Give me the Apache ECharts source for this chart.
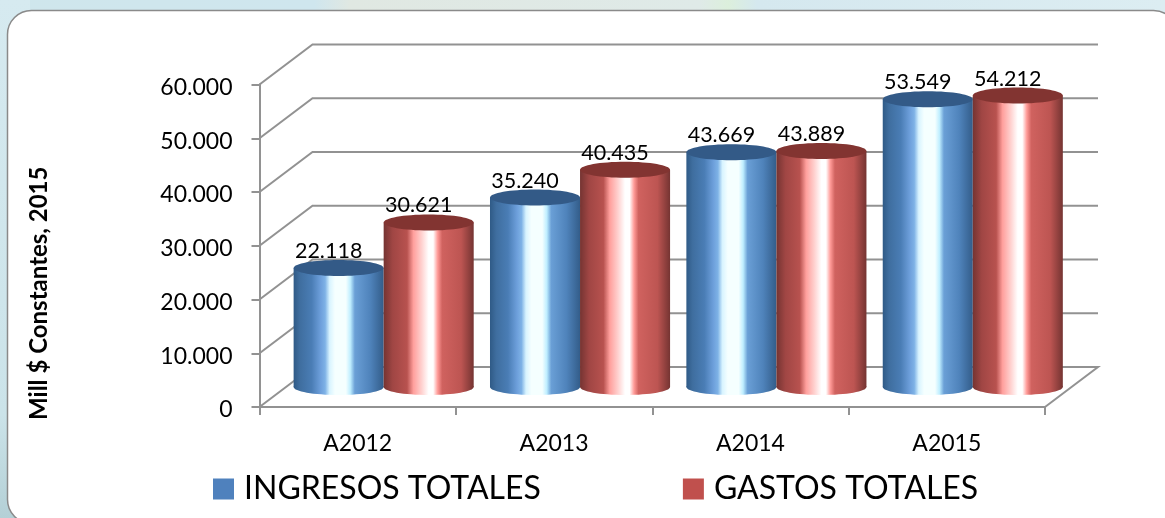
<!DOCTYPE html>
<html>
<head>
<meta charset="utf-8">
<style>html,body{margin:0;padding:0;background:#fff}#c{width:1165px;height:518px}</style>
<script src="https://cdn.jsdelivr.net/npm/echarts@6/dist/echarts.min.js"></script>
</head>
<body>
<div id="c"></div>
<script>
var categories = ['A2012', 'A2013', 'A2014', 'A2015'];
var ingresos = [22118, 35240, 43669, 53549];
var gastos = [30621, 40435, 43889, 54212];
var yTicks = [0, 10000, 20000, 30000, 40000, 50000, 60000];

var FONT = 'Lato, "Open Sans", sans-serif';
var DX = 53, DY = -40;
var GRID = '#929292';

function fmt(v) { return String(v).replace(/\B(?=(\d{3})+(?!\d))/g, '.'); }

function grad(stops) {
  return { type: 'linear', x: 0, y: 0, x2: 1, y2: 0, colorStops: stops };
}
var blueGrad = grad([
  { offset: 0, color: '#2f5a86' }, { offset: 0.07, color: '#3f6e9f' },
  { offset: 0.2, color: '#4a7db5' }, { offset: 0.3, color: '#6d9fdb' },
  { offset: 0.35, color: '#7eb2e6' }, { offset: 0.4, color: '#d8f4ff' },
  { offset: 0.46, color: '#f5ffff' }, { offset: 0.58, color: '#f5ffff' },
  { offset: 0.63, color: '#bfeeff' }, { offset: 0.68, color: '#6a9fd6' },
  { offset: 0.85, color: '#4f83bb' }, { offset: 1, color: '#335d8a' }
]);
var redGrad = grad([
  { offset: 0, color: '#753432' }, { offset: 0.1, color: '#a04644' },
  { offset: 0.26, color: '#b8524f' }, { offset: 0.33, color: '#ff9f9c' },
  { offset: 0.42, color: '#ffd0ce' }, { offset: 0.5, color: '#ffffff' },
  { offset: 0.55, color: '#ffffff' }, { offset: 0.6, color: '#ff9a97' },
  { offset: 0.65, color: '#d0625f' }, { offset: 0.86, color: '#bd5552' },
  { offset: 1, color: '#753432' }
]);

function cylinder(side, topColor, dir) {
  return function (params, api) {
    var i = api.value(0), v = api.value(1);
    var base = api.coord([i, 0]);
    var top = api.coord([i, v]);
    var w = api.size([1, 0])[0] * 0.4585;
    var rx = w / 2, ry = 8;
    var cx = base[0] + DX * 0.49 + dir * rx;
    var yb = base[1] + DY * 0.5;
    var yt = top[1] + DY * 0.5;
    return {
      type: 'group',
      children: [
        { type: 'ellipse', shape: { cx: cx, cy: yb, rx: rx, ry: ry }, style: { fill: side } },
        { type: 'rect', shape: { x: cx - rx, y: yt, width: w, height: yb - yt }, style: { fill: side } },
        { type: 'ellipse', shape: { cx: cx, cy: yt, rx: rx, ry: ry }, style: { fill: topColor } },
        {
          type: 'text', z2: 10,
          style: {
            x: cx - 10, y: yt - 17, text: fmt(v), align: 'center', verticalAlign: 'middle',
            fill: '#000', font: '21.5px ' + FONT
          }
        }
      ]
    };
  };
}

function wall(params, api) {
  var v = api.value(0);
  var a = api.coord([0, v]);
  var xMin = api.coord([0, 0])[0] - api.size([1, 0])[0] / 2;
  var xMax = api.coord([3, 0])[0] + api.size([1, 0])[0] / 2;
  var pts = [[xMin, a[1]], [xMin + DX, a[1] + DY], [xMax + DX, a[1] + DY]];
  if (v === 0) { pts.push([xMax, a[1]]); }
  return {
    type: 'polyline',
    shape: { points: pts },
    style: { stroke: GRID, lineWidth: 2, fill: 'none' }
  };
}

var chart = echarts.init(document.getElementById('c'));
chart.setOption({
  animation: false,
  textStyle: { fontFamily: FONT },
  graphic: [
    {
      type: 'rect', z: -10, silent: true,
      shape: { x: 0, y: 0, width: 1165, height: 518 },
      style: { fill: { type: 'linear', x: 0, y: 0, x2: 1, y2: 0, colorStops: [
        { offset: 0, color: '#cfe6ec' }, { offset: 0.27, color: '#cfe6ee' }, { offset: 0.3, color: '#e0e8e2' },
        { offset: 0.6, color: '#dfeae8' }, { offset: 0.625, color: '#dcefdc' }, { offset: 0.65, color: '#d5e8ef' },
        { offset: 1, color: '#dcedf2' }
      ] } }
    },
    {
      type: 'rect', z: -10, silent: true,
      shape: { x: 0, y: 0, width: 30, height: 518 },
      style: { fill: { type: 'linear', x: 0, y: 0, x2: 0, y2: 1, colorStops: [
        { offset: 0, color: '#d6eaf0' }, { offset: 0.8, color: '#cbe3e9' }, { offset: 1, color: '#b4d0d6' }
      ] } }
    },
    {
      type: 'rect', z: -9, silent: true,
      shape: { x: 7.5, y: 10.5, width: 1170, height: 513, r: 24 },
      style: { fill: '#fff', stroke: '#8a8a8a', lineWidth: 1.5 }
    }
  ],
  grid: { left: 259.5, width: 785.5, top: 84.5, height: 322.5 },
  xAxis: {
    type: 'category', data: categories, z: 1,
    axisLine: { lineStyle: { color: GRID, width: 2 } },
    axisTick: { show: true, length: 8, lineStyle: { color: GRID, width: 2 } },
    axisLabel: { fontSize: 23, color: '#000', margin: 25, fontFamily: FONT },
    splitLine: { show: false }
  },
  yAxis: {
    type: 'value', min: 0, max: 60000, interval: 10000,
    name: 'Mill $ Constantes, 2015', nameLocation: 'middle', nameGap: 208,
    nameTextStyle: { fontSize: 24, fontWeight: 'bold', color: '#000', padding: [0, 95, 0, 0], fontFamily: FONT },
    axisLine: { show: true, lineStyle: { color: GRID, width: 2 } },
    axisTick: { show: true, length: 8, lineStyle: { color: GRID, width: 2 } },
    axisLabel: { fontSize: 23, color: '#000', margin: 27, formatter: fmt, fontFamily: FONT, verticalAlign: 'top', lineHeight: 6 },
    splitLine: { show: false }
  },
  legend: {
    left: 213, top: 473, padding: 0, itemWidth: 21, itemHeight: 21, itemGap: 142,
    icon: 'rect',
    textStyle: { fontSize: 32, color: '#000', fontFamily: FONT, padding: [0, 0, 0, 5] },
    data: [
      { name: 'INGRESOS TOTALES', itemStyle: { color: '#4f81bd' } },
      { name: 'GASTOS TOTALES', itemStyle: { color: '#c0504d' } }
    ]
  },
  series: [
    { type: 'custom', silent: true, z: 0, data: yTicks.map(function (t) { return [t]; }), encode: { y: 0 }, renderItem: wall, clip: false },
    {
      type: 'custom', name: 'INGRESOS TOTALES', z: 2, clip: false,
      itemStyle: { color: '#4f81bd' },
      data: ingresos.map(function (v, i) { return [i, v]; }), encode: { x: 0, y: 1 },
      renderItem: cylinder(blueGrad, '#335a87', -1)
    },
    {
      type: 'custom', name: 'GASTOS TOTALES', z: 3, clip: false,
      itemStyle: { color: '#c0504d' },
      data: gastos.map(function (v, i) { return [i, v]; }), encode: { x: 0, y: 1 },
      renderItem: cylinder(redGrad, '#823431', 1)
    }
  ]
});
</script>
</body>
</html>
